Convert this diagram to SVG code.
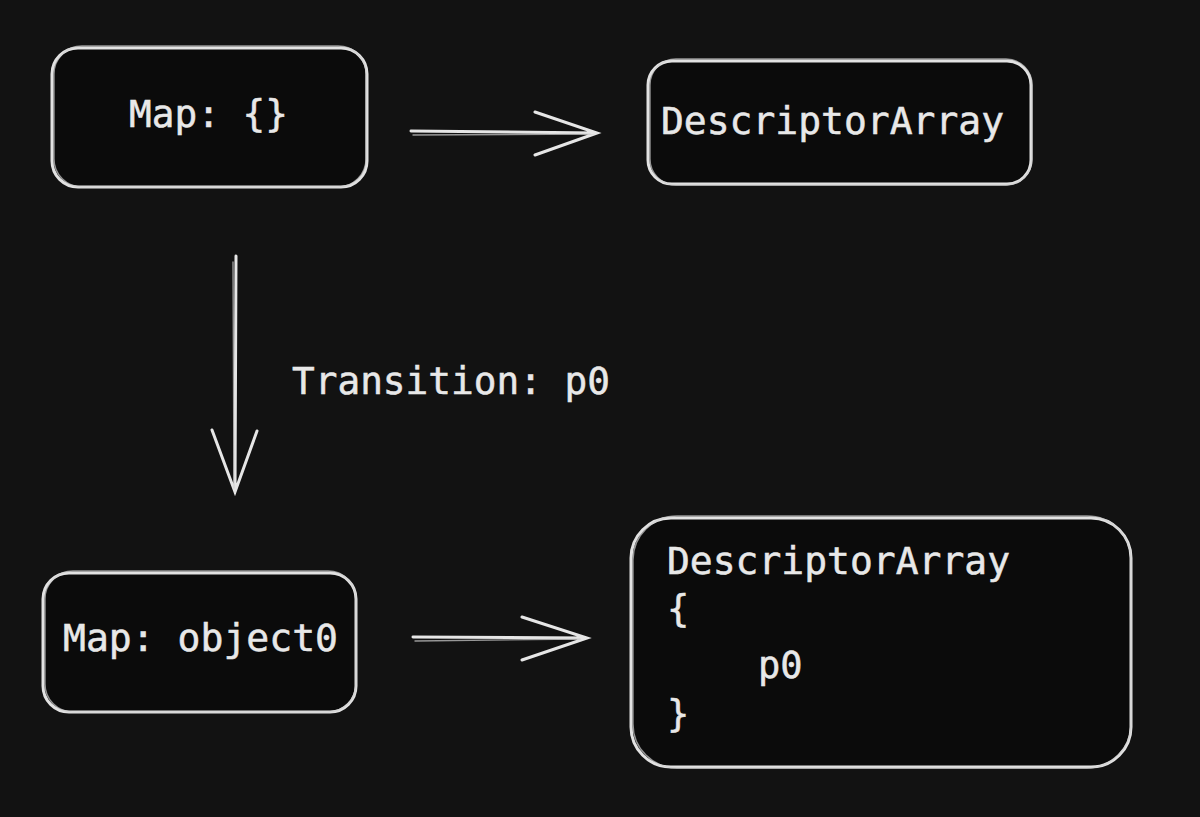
<svg xmlns="http://www.w3.org/2000/svg" width="1200" height="817" viewBox="0 0 1200 817">
<style>
.bg{fill:#121212}
.box{fill:#0b0b0b;stroke:#e2e2e2;stroke-width:3}
.box2{fill:none;stroke:#cfcfcf;stroke-width:1.4;opacity:.7}
.ln{fill:none;stroke:#e6e6e6;stroke-width:3;stroke-linecap:round}
.ln2{fill:none;stroke:#d0d0d0;stroke-width:1.4;stroke-linecap:round;opacity:.7}
.t{font-family:"DejaVu Sans Mono","Liberation Mono",monospace;font-size:37px;fill:#e8e8e8;stroke:#e8e8e8;stroke-width:0.5}
</style>
<rect class="bg" x="0" y="0" width="1200" height="817"/>
<g id="node-map-empty">
<rect class="box" x="52" y="48" width="315" height="139" rx="26"/>
<rect class="box2" x="54" y="46" width="312" height="141" rx="28"/>
<text class="t" x="129" y="127" textLength="159" lengthAdjust="spacingAndGlyphs">Map: {}</text>
</g>
<g id="node-descarray-top">
<rect class="box" x="648" y="61" width="383" height="123" rx="24"/>
<rect class="box2" x="650" y="59" width="382" height="126" rx="26"/>
<text class="t" x="661" y="134" textLength="343" lengthAdjust="spacingAndGlyphs">DescriptorArray</text>
</g>
<g id="node-map-object0">
<rect class="box" x="43" y="573" width="313" height="139" rx="26"/>
<rect class="box2" x="45" y="571" width="311" height="141" rx="28"/>
<text class="t" x="63" y="651" textLength="275" lengthAdjust="spacingAndGlyphs">Map: object0</text>
</g>
<g id="node-descarray-bottom">
<rect class="box" x="631" y="518" width="500" height="249" rx="40"/>
<rect class="box2" x="633" y="516" width="498" height="252" rx="44"/>
<text class="t" x="667" y="574" textLength="343" lengthAdjust="spacingAndGlyphs">DescriptorArray</text>
<text class="t" x="667" y="622">{</text>
<text class="t" x="758" y="678">p0</text>
<text class="t" x="667" y="727">}</text>
</g>
<g id="label-transition">
<text class="t" x="292" y="394" textLength="318" lengthAdjust="spacingAndGlyphs">Transition: p0</text>
</g>
<g id="connectors">
<path class="ln" d="M411 131 L597 133 M535 112 L597 133 L535 155"/>
<path class="ln2" d="M413 135 L590 134"/>
<path class="ln" d="M236 256 L235 492 M212 430 L235 492 L257 431"/>
<path class="ln2" d="M233 262 L234 488"/>
<path class="ln" d="M413 637 L587 638 M522 617 L587 638 L522 660"/>
<path class="ln2" d="M415 641 L580 639"/>
</g>
</svg>
